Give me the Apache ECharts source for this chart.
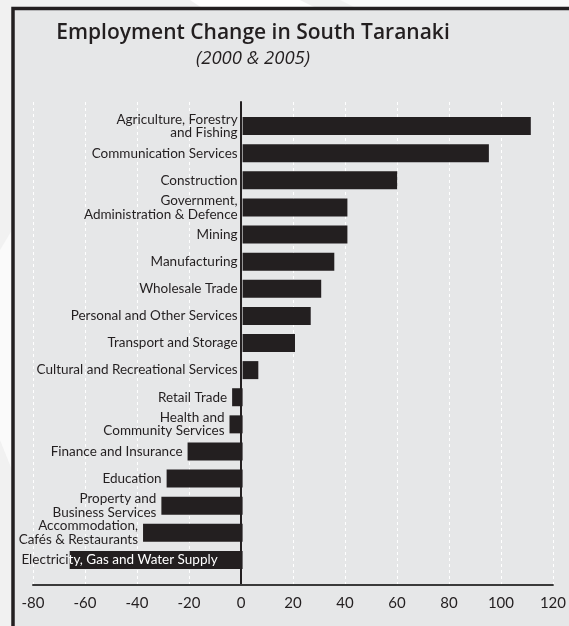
<!DOCTYPE html>
<html>
<head>
<meta charset="utf-8">
<script src="https://cdn.jsdelivr.net/npm/echarts@6/dist/echarts.min.js"></script>
<style>
  html, body { margin: 0; padding: 0; background: #f1f1f1; }
  #chart { width: 569px; height: 626px; }
</style>
</head>
<body>
<div id="chart"></div>
<script>
// Industries, top to bottom
const categories = [
  'Agriculture, Forestry\nand Fishing',
  'Communication Services',
  'Construction',
  'Government,\nAdministration & Defence',
  'Mining',
  'Manufacturing',
  'Wholesale Trade',
  'Personal and Other Services',
  'Transport and Storage',
  'Cultural and Recreational Services',
  'Retail Trade',
  'Health and\nCommunity Services',
  'Finance and Insurance',
  'Education',
  'Property and\nBusiness Services',
  'Accommodation,\nCafés & Restaurants',
  'Electricity, Gas and Water Supply'
];

// Change in employment between 2000 and 2005
const changes = [110, 94, 59, 40, 40, 35, 30, 26, 20, 6, -4, -5, -21, -29, -31, -38, -66];

// Value axis ticks
const tickValues = [-80, -60, -40, -20, 0, 20, 40, 60, 80, 100, 120];

const INK = '#231f20';
const FONT = 'Lato, "Open Sans", sans-serif';
const LABEL_SIZE = 13.5;
const axisMin = tickValues[0];
const axisMax = tickValues[tickValues.length - 1];
const axisStep = tickValues[1] - tickValues[0];

const plotLeft = 33, plotRight = 12;

// The longest bar carries its own label over the bar, split into dark and light parts
const longestIdx = changes.indexOf(Math.min(...changes));
const splitAt = 9;

const barData = changes.map((v, i) => {
  const item = { value: v, name: categories[i] };
  if (i === longestIdx) {
    const name = categories[i];
    item.label = {
      position: 'insideRight',
      distance: 25,
      formatter: '{d|' + name.slice(0, splitAt) + '}{w|' + name.slice(splitAt) + '}',
      rich: {
        d: { color: INK, fontSize: LABEL_SIZE, fontFamily: FONT },
        w: { color: '#ffffff', fontSize: LABEL_SIZE, fontFamily: FONT }
      }
    };
  }
  return item;
});

const chart = echarts.init(document.getElementById('chart'), null, { renderer: 'canvas' });

chart.setOption({
  animation: false,
  backgroundColor: '#f1f1f1',
  textStyle: { fontFamily: FONT, color: INK },
  graphic: [
    // faint background swooshes
    { type: 'polygon', z: -100, shape: { points: [[190, 0], [300, 0], [320, 10], [205, 10]] }, style: { fill: '#ffffff' } },
    { type: 'polygon', z: -100, shape: { points: [[340, 0], [569, 0], [569, 10], [360, 10]] }, style: { fill: '#fafafa' } },
    { type: 'polygon', z: -100, shape: { points: [[0, 250], [12, 230], [12, 470], [0, 440]] }, style: { fill: '#fafafa' } },
    // framed panel
    { type: 'rect', z: -90, shape: { x: 13, y: 8.5, width: 620, height: 700 },
      style: { fill: '#e6e7e8', stroke: INK, lineWidth: 3.5 } }
  ],
  title: [
    { text: 'Employment Change in South Taranaki', left: 248, top: 18, textAlign: 'center',
      textStyle: { fontFamily: '"Open Sans", sans-serif', fontSize: 21, fontWeight: 600, color: INK } },
    { text: '(2000 & 2005)', left: 248, top: 44, textAlign: 'center',
      textStyle: { fontFamily: '"Open Sans", sans-serif', fontSize: 18.5, fontStyle: 'italic', fontWeight: 'normal', color: INK } }
  ],
  grid: [
    { left: plotLeft, right: plotRight, top: 112.5, height: 461 },
    { left: plotLeft, right: plotRight, top: 102, bottom: 41 }
  ],
  xAxis: [
    { gridIndex: 0, type: 'value', min: axisMin, max: axisMax, interval: axisStep, show: false },
    { gridIndex: 1, type: 'value', min: axisMin, max: axisMax, interval: axisStep,
      axisLine: { show: true, onZero: false, lineStyle: { color: '#3a3a3a', width: 2 } },
      axisTick: { show: false },
      axisLabel: { fontSize: 15, color: INK, margin: 11, fontFamily: FONT },
      splitLine: { show: true, lineStyle: { color: '#ffffff', type: [3, 3], width: 1 } } }
  ],
  yAxis: [
    { gridIndex: 0, type: 'category', data: categories, inverse: true, show: false },
    { gridIndex: 1, type: 'value', min: 0, max: 1,
      axisLine: { show: true, onZero: true, lineStyle: { color: INK, width: 2 } },
      axisTick: { show: false }, axisLabel: { show: false }, splitLine: { show: false } }
  ],
  series: [{
    type: 'bar',
    xAxisIndex: 0,
    yAxisIndex: 0,
    barWidth: 18,
    itemStyle: { color: INK },
    label: {
      show: true,
      position: 'left',
      distance: 5,
      formatter: '{b}',
      fontSize: LABEL_SIZE,
      lineHeight: 13.5,
      align: 'right',
      color: INK,
      fontFamily: FONT
    },
    data: barData
  }]
});
</script>
</body>
</html>
